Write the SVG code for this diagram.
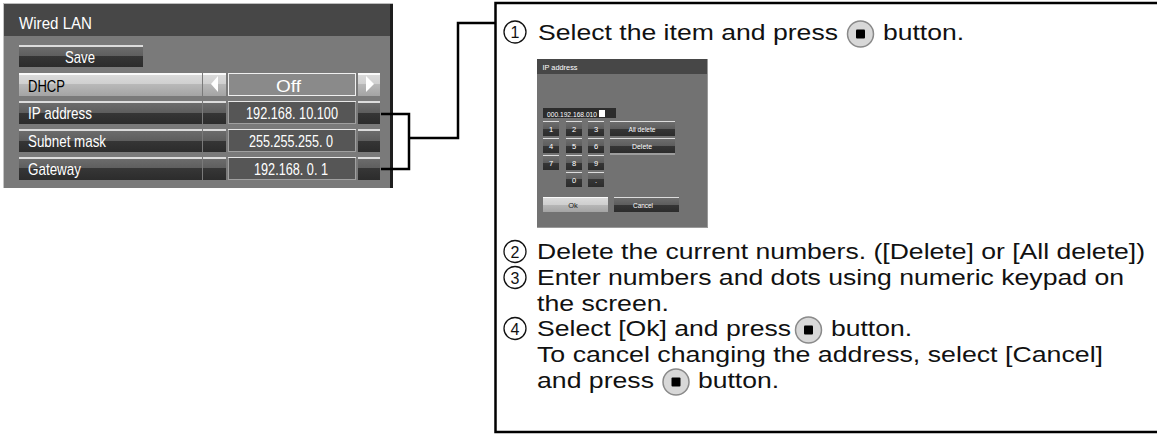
<svg xmlns="http://www.w3.org/2000/svg" width="1157" height="435" viewBox="0 0 1157 435">
<style>
.pt{font-family:"Liberation Sans Narrow","Liberation Sans",Arial,sans-serif;font-size:17px;fill:#fff}
.pk{fill:#000}
.t{font-family:"Liberation Sans",Arial,sans-serif;font-size:22px;fill:#111}
.cn{font-family:"Liberation Sans",Arial,sans-serif;font-size:16px;fill:#111;text-anchor:middle}
.cc{fill:none;stroke:#111;stroke-width:1.3}
.dt{font-family:"Liberation Sans Narrow","Liberation Sans",Arial,sans-serif;font-size:7.5px;fill:#fff;text-anchor:middle}
.conn{fill:none;stroke:#000;stroke-width:2.5}
.dk{fill:url(#gDark)}
.lt{fill:url(#gLight)}
.val{fill:#565656;stroke:#a0a0a0;stroke-width:1}
.btn{fill:#d8d8d8;stroke:#8a8a8a;stroke-width:1.5}
</style>
<defs>
<linearGradient id="gDark" x1="0" y1="0" x2="0" y2="1">
<stop offset="0" stop-color="#dcdcdc"/><stop offset="0.09" stop-color="#dcdcdc"/>
<stop offset="0.09" stop-color="#6c6c6c"/><stop offset="0.5" stop-color="#5e5e5e"/>
<stop offset="0.5" stop-color="#363636"/><stop offset="1" stop-color="#2c2c2c"/>
</linearGradient>
<linearGradient id="gLight" x1="0" y1="0" x2="0" y2="1">
<stop offset="0" stop-color="#fafafa"/><stop offset="0.09" stop-color="#fafafa"/>
<stop offset="0.09" stop-color="#dadada"/><stop offset="0.5" stop-color="#cfcfcf"/>
<stop offset="0.5" stop-color="#b8b8b8"/><stop offset="1" stop-color="#a4a4a4"/>
</linearGradient>
<g id="pbtn">
<circle cx="0" cy="0" r="13" class="btn"/>
<rect x="-4.5" y="-4.5" width="9" height="9" rx="1" fill="#000"/>
</g>
</defs>

<rect width="1157" height="435" fill="#fff"/>

<g id="panel">
<rect x="3" y="3" width="389" height="185" fill="#7a7a7a"/>
<rect x="3" y="3" width="389" height="33" fill="#474747"/>
<line x1="3.5" y1="3" x2="3.5" y2="188" stroke="#c4c4c4" stroke-width="1"/>
<line x1="3" y1="3.5" x2="393" y2="3.5" stroke="#bdbdbd" stroke-width="1"/>
<rect x="390" y="4" width="3" height="184" fill="#1e1e1e"/>
<text class="pt" x="19" y="29" textLength="73" lengthAdjust="spacingAndGlyphs">Wired LAN</text>

<g id="save">
<rect x="19" y="45" width="124" height="22" class="dk"/>
<text class="pt" x="65" y="63" textLength="30" lengthAdjust="spacingAndGlyphs">Save</text>
</g>

<g id="row-dhcp">
<rect x="19" y="73" width="183" height="23" class="lt"/>
<rect x="203" y="73" width="23" height="23" class="lt"/>
<rect x="228.5" y="73.5" width="127" height="22" fill="#8a8a8a" stroke="#f0f0f0" stroke-width="1"/>
<rect x="358" y="73" width="22" height="23" class="lt"/>
<polygon points="211,84 218,76 218,92" fill="#fff"/>
<polygon points="366,76 374,84 366,92" fill="#fff"/>
<text class="pt pk" x="28" y="92" textLength="37" lengthAdjust="spacingAndGlyphs">DHCP</text>
<text class="pt" x="276" y="92" textLength="25" lengthAdjust="spacingAndGlyphs">Off</text>
</g>

<g id="row-ip">
<rect x="19" y="101" width="183" height="23" class="dk"/>
<rect x="203" y="101" width="23" height="23" class="dk"/>
<rect x="228.5" y="101.5" width="127" height="22" class="val"/>
<line x1="228" y1="101.5" x2="356" y2="101.5" stroke="#e8e8e8"/>
<rect x="358" y="101" width="22" height="23" class="dk"/>
<text class="pt" x="28" y="119" textLength="64" lengthAdjust="spacingAndGlyphs">IP address</text>
<text class="pt" x="246" y="119" textLength="92" lengthAdjust="spacingAndGlyphs">192.168. 10.100</text>
</g>

<g id="row-subnet">
<rect x="19" y="129" width="183" height="23" class="dk"/>
<rect x="203" y="129" width="23" height="23" class="dk"/>
<rect x="228.5" y="129.5" width="127" height="22" class="val"/>
<line x1="228" y1="129.5" x2="356" y2="129.5" stroke="#e8e8e8"/>
<rect x="358" y="129" width="22" height="23" class="dk"/>
<text class="pt" x="28" y="147" textLength="78" lengthAdjust="spacingAndGlyphs">Subnet mask</text>
<text class="pt" x="249" y="147" textLength="84" lengthAdjust="spacingAndGlyphs">255.255.255. 0</text>
</g>

<g id="row-gateway">
<rect x="19" y="157" width="183" height="23" class="dk"/>
<rect x="203" y="157" width="23" height="23" class="dk"/>
<rect x="228.5" y="157.5" width="127" height="22" class="val"/>
<line x1="228" y1="157.5" x2="356" y2="157.5" stroke="#e8e8e8"/>
<rect x="358" y="157" width="22" height="23" class="dk"/>
<text class="pt" x="28" y="175" textLength="53" lengthAdjust="spacingAndGlyphs">Gateway</text>
<text class="pt" x="254" y="175" textLength="74" lengthAdjust="spacingAndGlyphs">192.168. 0. 1</text>
</g>
</g>

<g id="connectors">
<polyline class="conn" points="381,114 409,114 409,169 381,169"/>
<polyline class="conn" points="409,138 458,138 458,23 495,23"/>
</g>

<g id="instructions">
<path d="M1160,3 H495.5 V432 H1160" fill="none" stroke="#000" stroke-width="2.5"/>

<circle class="cc" cx="515" cy="32" r="11"/>
<text class="cn" x="515" y="38">1</text>
<text class="t" x="538" y="40" textLength="300" lengthAdjust="spacingAndGlyphs">Select the item and press</text>
<use href="#pbtn" x="860.5" y="34"/>
<text class="t" x="883" y="40" textLength="81" lengthAdjust="spacingAndGlyphs">button.</text>

<g id="dialog">
<rect x="537" y="59" width="171" height="169" fill="#727272"/>
<rect x="537" y="59" width="171" height="15" fill="#474747"/>
<line x1="707.5" y1="59" x2="707.5" y2="228" stroke="#9a9a9a"/>
<line x1="537" y1="227.5" x2="708" y2="227.5" stroke="#9a9a9a"/>
<text class="dt" x="560" y="70" textLength="35" lengthAdjust="spacingAndGlyphs">IP address</text>
<rect x="543" y="108" width="73" height="10" fill="#2c2c2c"/>
<text class="dt" x="572" y="116.5" textLength="50" lengthAdjust="spacingAndGlyphs">000.192.168.010</text>
<rect x="599" y="110" width="6" height="7" fill="#fff"/>
<rect x="543" y="121" width="16" height="15" class="dk"/>
<rect x="566" y="121" width="16" height="15" class="dk"/>
<rect x="588" y="121" width="16" height="15" class="dk"/>
<rect x="543" y="138" width="16" height="15" class="dk"/>
<rect x="566" y="138" width="16" height="15" class="dk"/>
<rect x="588" y="138" width="16" height="15" class="dk"/>
<rect x="543" y="155" width="16" height="15" class="dk"/>
<rect x="566" y="155" width="16" height="15" class="dk"/>
<rect x="588" y="155" width="16" height="15" class="dk"/>
<rect x="566" y="172" width="16" height="15" class="dk"/>
<rect x="588" y="172" width="16" height="15" class="dk"/>
<text class="dt" x="551" y="132">1</text>
<text class="dt" x="574" y="132">2</text>
<text class="dt" x="596" y="132">3</text>
<text class="dt" x="551" y="149">4</text>
<text class="dt" x="574" y="149">5</text>
<text class="dt" x="596" y="149">6</text>
<text class="dt" x="551" y="166">7</text>
<text class="dt" x="574" y="166">8</text>
<text class="dt" x="596" y="166">9</text>
<text class="dt" x="574" y="183">0</text>
<text class="dt" x="596" y="183">.</text>
<rect x="610" y="121" width="65" height="15" class="dk"/>
<text class="dt" x="642" y="131.5" textLength="27" lengthAdjust="spacingAndGlyphs">All delete</text>
<rect x="610" y="138" width="65" height="15" class="dk"/>
<line x1="610" y1="154" x2="675" y2="154" stroke="#c8c8c8"/>
<text class="dt" x="642" y="148.5" textLength="20" lengthAdjust="spacingAndGlyphs">Delete</text>
<rect x="543" y="197" width="65" height="15" class="lt"/>
<text class="dt" x="573" y="207.5" style="fill:#222">Ok</text>
<rect x="614" y="197" width="65" height="15" class="dk"/>
<text class="dt" x="643" y="207.5" textLength="20" lengthAdjust="spacingAndGlyphs">Cancel</text>
</g>

<circle class="cc" cx="515" cy="251.5" r="11"/>
<text class="cn" x="515" y="257.5">2</text>
<text class="t" x="537" y="259" textLength="608" lengthAdjust="spacingAndGlyphs">Delete the current numbers. ([Delete] or [All delete])</text>

<circle class="cc" cx="515" cy="277.5" r="11"/>
<text class="cn" x="515" y="283.5">3</text>
<text class="t" x="537" y="285" textLength="587" lengthAdjust="spacingAndGlyphs">Enter numbers and dots using numeric keypad on</text>
<text class="t" x="537" y="310.5" textLength="132" lengthAdjust="spacingAndGlyphs">the screen.</text>

<circle class="cc" cx="515" cy="328.5" r="11"/>
<text class="cn" x="515" y="334.5">4</text>
<text class="t" x="537" y="336" textLength="254" lengthAdjust="spacingAndGlyphs">Select [Ok] and press</text>
<use href="#pbtn" x="808.5" y="330"/>
<text class="t" x="831" y="336" textLength="81" lengthAdjust="spacingAndGlyphs">button.</text>
<text class="t" x="537" y="362" textLength="566" lengthAdjust="spacingAndGlyphs">To cancel changing the address, select [Cancel]</text>
<text class="t" x="537" y="388" textLength="117" lengthAdjust="spacingAndGlyphs">and press</text>
<use href="#pbtn" x="676" y="382"/>
<text class="t" x="698" y="388" textLength="81" lengthAdjust="spacingAndGlyphs">button.</text>
</g>
</svg>
